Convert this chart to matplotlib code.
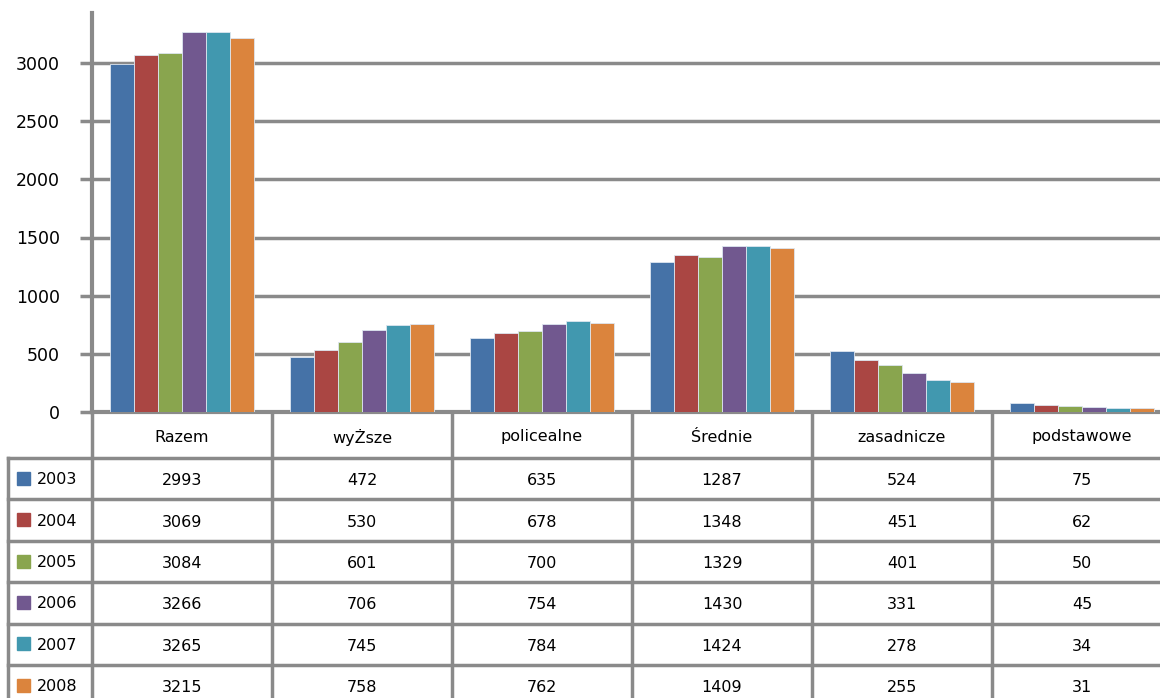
import numpy as np
import matplotlib.pyplot as plt
from matplotlib.patches import Rectangle

plt.rcParams["font.family"] = ["DejaVu Sans"]

categories = ["Razem", "wyŻsze", "policealne", "Średnie", "zasadnicze", "podstawowe"]
years = ["2003", "2004", "2005", "2006", "2007", "2008"]
values = {
    "2003": [2993, 472, 635, 1287, 524, 75],
    "2004": [3069, 530, 678, 1348, 451, 62],
    "2005": [3084, 601, 700, 1329, 401, 50],
    "2006": [3266, 706, 754, 1430, 331, 45],
    "2007": [3265, 745, 784, 1424, 278, 34],
    "2008": [3215, 758, 762, 1409, 255, 31],
}
colors = ["#4572A7", "#AA4643", "#89A54E", "#71588F", "#4198AF", "#DB843D"]
yticks = [0, 500, 1000, 1500, 2000, 2500, 3000]

W, H = 1160, 698
grid_col = "#8a8a8a"
fs = 11.5
fig = plt.figure(figsize=(W / 100, H / 100), dpi=100)

# plot area in pixel units
x0, zero_y, top_y, col_w = 92, 412, 13, 180
ax = fig.add_axes([x0 / W, 1 - zero_y / H, col_w * 6 / W, (zero_y - top_y) / H])

x = np.arange(len(categories))
n = len(years)
bw = 0.8 / n
for i, yr in enumerate(years):
    ax.bar(x - 0.4 + bw * (i + 0.5), values[yr], width=bw, color=colors[i],
           edgecolor="#dde6f0", linewidth=0.6, zorder=3)

ax.set_xlim(-0.5, len(categories) - 0.5)
ax.set_ylim(0, 3000 * (zero_y - top_y) / (zero_y - 63))
ax.set_yticks(yticks)
ax.set_yticklabels([str(t) for t in yticks], fontsize=12.5)
ax.set_xticks([])
ax.yaxis.grid(True, color=grid_col, linewidth=2.5, zorder=0)
ax.set_axisbelow(True)
for s in ["top", "right"]:
    ax.spines[s].set_visible(False)
for s in ["left", "bottom"]:
    ax.spines[s].set_color(grid_col)
    ax.spines[s].set_linewidth(3)
ax.tick_params(axis="y", length=9, width=2.5, color=grid_col, pad=14)

# data table below the plot
tab = fig.add_axes([0, 0, 1, 1])
tab.set_xlim(0, W)
tab.set_ylim(H, 0)
tab.axis("off")

header_bottom = 458
row_h = 41.4
legend_left = 8
right_end = x0 + col_w * 6
lw = 2.5

# header row
for j in range(7):
    xx = x0 + col_w * j
    tab.plot([xx, xx], [zero_y, H], color=grid_col, lw=lw)
for j, cat in enumerate(categories):
    tab.text(x0 + col_w * (j + 0.5), (zero_y + header_bottom) / 2 + 2, cat,
             ha="center", va="center", fontsize=fs)

# body rows
tab.plot([legend_left, legend_left], [header_bottom, H], color=grid_col, lw=lw)
for r in range(n + 1):
    yy = header_bottom + row_h * r
    tab.plot([legend_left, right_end], [yy, yy], color=grid_col, lw=lw)
for r, yr in enumerate(years):
    yc = header_bottom + row_h * (r + 0.5)
    tab.add_patch(Rectangle((17, yc - 7), 13, 13, color=colors[r]))
    tab.text(37, yc + 1, yr, ha="left", va="center", fontsize=fs)
    for j, v in enumerate(values[yr]):
        tab.text(x0 + col_w * (j + 0.5), yc + 2, str(v), ha="center",
                 va="center", fontsize=fs)

fig.savefig("out.png", dpi=100)
